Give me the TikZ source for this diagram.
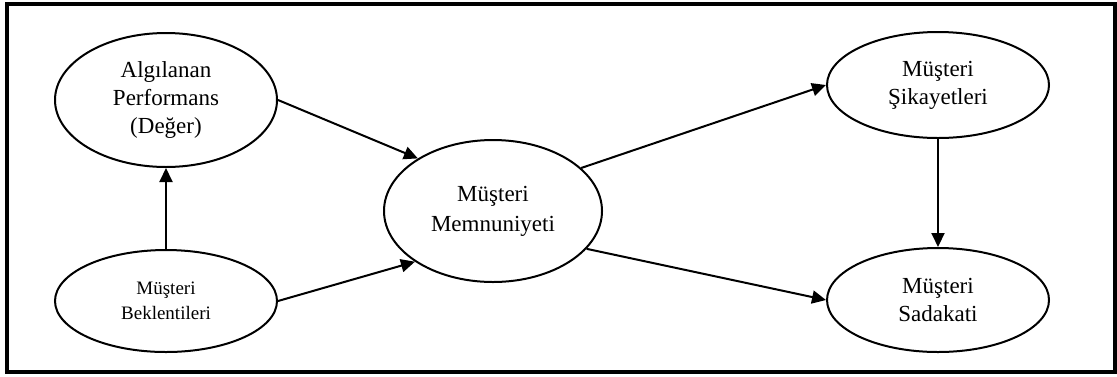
\documentclass[tikz,border=0pt]{standalone}
\usepackage{fontspec}
\setmainfont{Liberation Serif}
\usepackage{tikz}
\usetikzlibrary{shapes.geometric,arrows.meta}

\begin{document}
\begin{tikzpicture}[x=0.5pt, y=-0.5pt,
oval/.style={ellipse, draw, line width=1pt, inner sep=0pt, align=center,
  font=\fontsize{11.5}{14}\selectfont},
link/.style={line width=1pt, -{Triangle[length=7pt,width=6.5pt]}}]

\useasboundingbox (0,0) rectangle (1117,376);
\draw[line width=2pt] (7,3.5) rectangle (1115,372);

% left column
\node[oval, minimum width=111pt, minimum height=67pt] (alg) at (166,100)
  {Algılanan\\Performans\\(Değer)};
\node[oval, minimum width=111pt, minimum height=51pt,
  font=\fontsize{9.5}{12.5}\selectfont] (bek) at (166,301)
  {Müşteri\\Beklentileri};

% middle
\node[oval, minimum width=109pt, minimum height=71pt,
  font=\fontsize{11.5}{15}\selectfont] (mem) at (493,211)
  {Müşteri\\Memnuniyeti};

% right column
\node[oval, minimum width=111pt, minimum height=53pt] (sik) at (938,85)
  {Müşteri\\Şikayetleri};
\node[oval, minimum width=111pt, minimum height=52pt] (sad) at (938,300)
  {Müşteri\\Sadakati};

\draw[link] (bek) -- (alg);
\draw[link] (alg.east) -- (mem.145);
\draw[link] (bek.east) -- (mem.213);
\draw[link] (mem.26) -- (sik.west);
\draw[link] (mem.338) -- (sad.west);
\draw[link] (sik) -- (sad);
\end{tikzpicture}
\end{document}
